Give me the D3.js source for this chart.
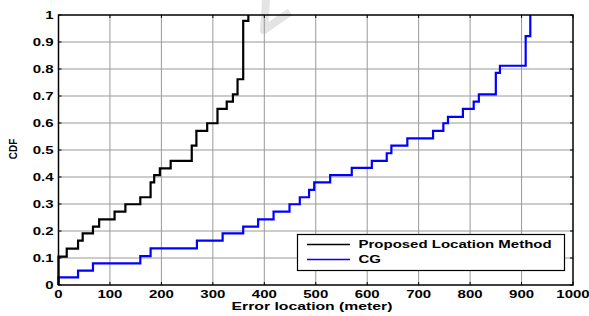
<!DOCTYPE html>
<html>
<head>
<meta charset="utf-8">
<script src="https://cdn.jsdelivr.net/npm/d3@7"></script>
<style>
    body { margin: 0; background: #fff; }
    svg { display: block; }
    text { font-family: Arial, "Liberation Sans", sans-serif; font-weight: bold; fill: #000; }
</style>
</head>
<body>
<svg id="chart" width="589" height="316"></svg>
<script>
// step points of each empirical CDF (x = error in meter, y = CDF after the jump)
var propX = [0, 0, 16, 38, 47, 67, 79, 109, 130, 159, 179, 186, 197, 218, 259, 268, 289, 309, 327, 339, 348, 359, 369];
var propY = [0, 0.105, 0.135, 0.164, 0.191, 0.216, 0.243, 0.272, 0.299, 0.325, 0.380, 0.407, 0.432, 0.460, 0.516, 0.571, 0.599, 0.652, 0.679, 0.706, 0.762, 0.978, 1.0];
var cgX = [0, 0, 38, 67, 159, 179, 269, 319, 359, 388, 418, 449, 469, 487, 497, 528, 570, 609, 638, 647, 678, 728, 748, 757, 786, 807, 817, 850, 858, 908, 917];
var cgY = [0, 0.028, 0.053, 0.080, 0.107, 0.136, 0.164, 0.191, 0.216, 0.243, 0.272, 0.299, 0.325, 0.352, 0.380, 0.407, 0.434, 0.460, 0.488, 0.516, 0.543, 0.571, 0.599, 0.623, 0.652, 0.679, 0.706, 0.786, 0.812, 0.922, 1.0];
var xTicks = [0, 100, 200, 300, 400, 500, 600, 700, 800, 900, 1000];
var yTicks = [0, 0.1, 0.2, 0.3, 0.4, 0.5, 0.6, 0.7, 0.8, 0.9, 1];
var seriesNames = ["Proposed Location Method", "CG"];
var seriesColors = ["#000000", "#0000ff"];

var svg = d3.select("#chart"),
    plotLeft = 58.5, plotRight = 573, plotTop = 15, plotBottom = 285,
    x = d3.scaleLinear().domain([0, 1000]).range([plotLeft, plotRight]),
    y = d3.scaleLinear().domain([0, 1]).range([plotBottom, plotTop]),
    stretch = 1.5;

// the source picture is squeezed, so text is drawn wide
function wideText(px, py, str, anchor, size) {
    return svg.append("text")
        .attr("transform", "translate(" + px + "," + py + ") scale(" + stretch + ",1)")
        .attr("text-anchor", anchor)
        .style("font-size", size + "px")
        .text(str);
}

// faint watermark stroke
svg.append("path")
    .attr("d", "M266,0 L264,30 L290,12")
    .attr("fill", "none")
    .attr("stroke", "#e4e4e4")
    .attr("stroke-width", 8)
    .attr("stroke-linejoin", "round");

// grid
svg.append("g").selectAll("line")
    .data(xTicks.slice(1, -1))
    .enter().append("line")
        .attr("x1", function(d) { return x(d); })
        .attr("x2", function(d) { return x(d); })
        .attr("y1", plotTop)
        .attr("y2", plotBottom)
        .attr("stroke", "#999")
        .attr("stroke-width", 1);
svg.append("g").selectAll("line")
    .data(yTicks.slice(1, -1))
    .enter().append("line")
        .attr("x1", plotLeft)
        .attr("x2", plotRight)
        .attr("y1", function(d) { return y(d); })
        .attr("y2", function(d) { return y(d); })
        .attr("stroke", "#999")
        .attr("stroke-width", 1);

// inner tick marks on all four sides
var tick = 3;
svg.append("g").selectAll("line")
    .data(xTicks)
    .enter().append("line")
        .attr("x1", function(d) { return x(d); })
        .attr("x2", function(d) { return x(d); })
        .attr("y1", plotBottom)
        .attr("y2", plotBottom - tick)
        .attr("stroke", "#000");
svg.append("g").selectAll("line")
    .data(xTicks)
    .enter().append("line")
        .attr("x1", function(d) { return x(d); })
        .attr("x2", function(d) { return x(d); })
        .attr("y1", plotTop)
        .attr("y2", plotTop + tick)
        .attr("stroke", "#000");
svg.append("g").selectAll("line")
    .data(yTicks)
    .enter().append("line")
        .attr("x1", plotLeft)
        .attr("x2", plotLeft + tick)
        .attr("y1", function(d) { return y(d); })
        .attr("y2", function(d) { return y(d); })
        .attr("stroke", "#000");
svg.append("g").selectAll("line")
    .data(yTicks)
    .enter().append("line")
        .attr("x1", plotRight)
        .attr("x2", plotRight - tick)
        .attr("y1", function(d) { return y(d); })
        .attr("y2", function(d) { return y(d); })
        .attr("stroke", "#000");

// curves
var step = d3.line()
    .x(function(d) { return x(d[0]); })
    .y(function(d) { return y(d[1]); })
    .curve(d3.curveStepAfter);

[[cgX, cgY, 1], [propX, propY, 0]].forEach(function(s) {
    svg.append("path")
        .datum(d3.zip(s[0], s[1]))
        .attr("d", step)
        .attr("fill", "none")
        .attr("stroke", seriesColors[s[2]])
        .attr("stroke-width", 2.2);
});

// axes box
svg.append("rect")
    .attr("x", plotLeft)
    .attr("y", plotTop)
    .attr("width", plotRight - plotLeft)
    .attr("height", plotBottom - plotTop)
    .attr("fill", "none")
    .attr("stroke", "#000")
    .attr("stroke-width", 1.5);

// tick labels
xTicks.forEach(function(d) {
    wideText(x(d), 298, String(d), "middle", 10);
});
yTicks.forEach(function(d) {
    wideText(53.5, y(d) + 3.7, String(d), "end", 10);
});

// axis titles
wideText(312, 310, "Error location (meter)", "middle", 10.5);
svg.append("text")
    .attr("transform", "translate(16.5,149) rotate(-90)")
    .attr("text-anchor", "middle")
    .style("font-size", "10px")
    .text("CDF");

// legend
var lg = svg.append("g");
lg.append("rect")
    .attr("x", 297.5)
    .attr("y", 234.5)
    .attr("width", 267)
    .attr("height", 36)
    .attr("fill", "#fff")
    .attr("stroke", "#000")
    .attr("stroke-width", 1.2);
seriesNames.forEach(function(name, i) {
    var ly = 244.5 + i * 15;
    lg.append("line")
        .attr("x1", 307)
        .attr("x2", 350)
        .attr("y1", ly)
        .attr("y2", ly)
        .attr("stroke", seriesColors[i])
        .attr("stroke-width", 1.5);
    wideText(358.5, ly + 3.7, name, "start", 10);
});
</script>
</body>
</html>
